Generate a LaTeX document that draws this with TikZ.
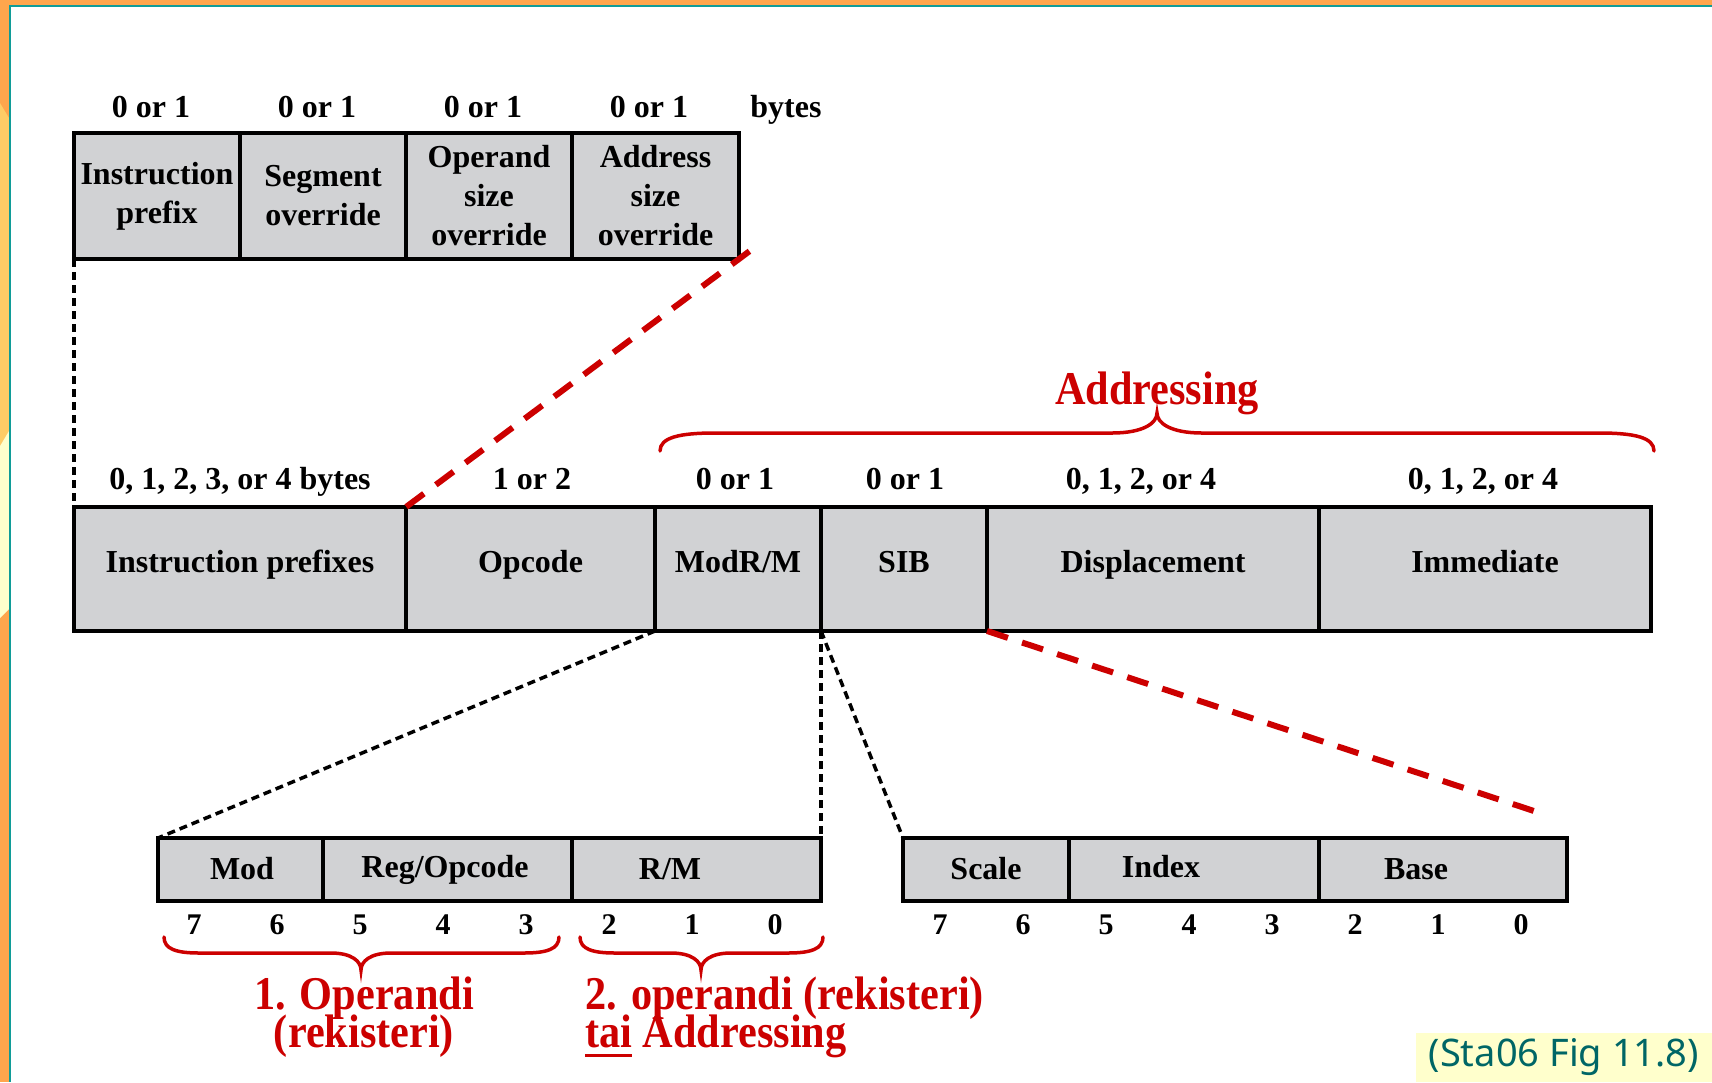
\documentclass[tikz,border=0pt]{standalone}
\usepackage{fontspec}
\setmainfont{Liberation Serif}
\newfontfamily\redfont{Liberation Serif}[FakeStretch=0.9]
\newfontfamily\notefont{Noto Sans}
\usetikzlibrary{calc}
\definecolor{boxgray}{RGB}{209,210,212}
\definecolor{myred}{RGB}{204,0,0}
\definecolor{frameorange}{RGB}{255,166,77}
\definecolor{frameteal}{RGB}{16,156,152}
\definecolor{lightorange}{RGB}{255,204,102}
\definecolor{paleyellow}{RGB}{255,255,204}
\definecolor{noteteal}{RGB}{0,102,102}
\newsavebox\ulbox
\newcommand{\ulred}[1]{\sbox\ulbox{#1}\rlap{\rule[-9pt]{\wd\ulbox}{3pt}}\usebox\ulbox}
\newcommand{\tightlines}{\lineskiplimit=-100pt\relax\lineskip=0pt\relax}
\newcommand{\redbraceshape}[8]{%
  \draw[redbrace] (#1,#4) .. controls (#1,{#5+0.25*(#4-#5)}) and ({#1+0.35*#7},#5) .. ({#1+#7},#5)
    -- ({#3-#8},#5) .. controls ({#3-0.3*#8},#5) and (#3,{#5+0.5*(#6-#5)}) .. (#3,#6)
    .. controls (#3,{#5+0.5*(#6-#5)}) and ({#3+0.3*#8},#5) .. ({#3+#8},#5)
    -- ({#2-#7},#5) .. controls ({#2-0.35*#7},#5) and (#2,{#5+0.25*(#4-#5)}) .. (#2,#4);}
\begin{document}
\begin{tikzpicture}[x=1pt,y=-1pt,
  field/.style={draw=black, fill=boxgray, line width=3.5pt, inner sep=0pt, outer sep=0pt,
    anchor=north west, align=center, font=\bfseries\fontsize{32}{39}\selectfont},
  mainfield/.style={field, minimum height=124pt, text height=22pt, text depth=16pt},
  lowfield/.style={field, minimum height=63pt},
  lbl/.style={anchor=base, inner sep=0pt, font=\bfseries\fontsize{32}{39}\selectfont},
  bitlbl/.style={anchor=base, inner sep=0pt, font=\bfseries\fontsize{30}{36}\selectfont},
  redlbl/.style={inner sep=0pt, text=myred,
    font=\redfont\bfseries\fontsize{47}{38}\selectfont\tightlines},
  blackdots/.style={draw=black, line width=3.5pt, dash pattern=on 8pt off 5pt},
  reddash/.style={draw=myred, line width=6pt, dash pattern=on 22pt off 14.9pt},
  redbrace/.style={draw=myred, line width=3.5pt, line cap=round}]
\useasboundingbox (0,0) rectangle (1712,1082);
% frame
\fill[white] (0,0) rectangle (1712,1082);
\fill[frameorange] (0,0) rectangle (1712,5);
\fill[frameorange] (0,0) rectangle (9,1082);
\fill[lightorange] (0,103) -- (9,118) -- (9,431) -- (0,446) -- cycle;
\fill[paleyellow] (0,446) -- (9,431) -- (9,609) -- (0,618) -- cycle;
\fill[frameteal] (9,5) rectangle (1712,7);
\fill[frameteal] (9,5) rectangle (11,1082);

% top row
\node[field, minimum width=166pt, minimum height=126pt] (ip) at (74,133) {Instruction\\prefix};
\node[field, minimum width=166pt, minimum height=126pt] (so) at (240,133) {Segment\\override};
\node[field, minimum width=166pt, minimum height=126pt] (osz) at (406,133) {Operand\\size\\override};
\node[field, minimum width=167pt, minimum height=126pt] (asz) at (572,133) {Address\\size\\override};
\node[lbl] (t1) at (151,117) {0 or 1};
\node[lbl] (t2) at (317,117) {0 or 1};
\node[lbl] (t3) at (483,117) {0 or 1};
\node[lbl] (t4) at (649,117) {0 or 1};
\node[lbl] (t5) at (786,117) {bytes};

% main row
\node[mainfield, minimum width=332pt] (mp1) at (74,507) {Instruction prefixes};
\node[mainfield, minimum width=249pt] (opc) at (406,507) {Opcode};
\node[mainfield, minimum width=166pt] (modrm) at (655,507) {ModR/M};
\node[mainfield, minimum width=166pt] (sib) at (821,507) {SIB};
\node[mainfield, minimum width=332pt] (disp) at (987,507) {Displacement};
\node[mainfield, minimum width=332pt] (imm) at (1319,507) {Immediate};
\node[lbl] (m1) at (240,489) {0, 1, 2, 3, or 4 bytes};
\node[lbl] (m2) at (532,489) {1 or 2};
\node[lbl] (m3) at (735,489) {0 or 1};
\node[lbl] (m4) at (905,489) {0 or 1};
\node[lbl] (m5) at (1141,489) {0, 1, 2, or 4};
\node[lbl] (m6) at (1483,489) {0, 1, 2, or 4};

% lower rows
\node[lowfield, minimum width=165pt] (nmod) at (158,838) {};
\node[lowfield, minimum width=249pt] (nreg) at (323,838) {};
\node[lowfield, minimum width=249pt] (nrm) at (572,838) {};
\node[lowfield, minimum width=166pt] (nscale) at (903,838) {};
\node[lowfield, minimum width=250pt] (nindex) at (1069,838) {};
\node[lowfield, minimum width=248pt] (nbase) at (1319,838) {};
\node[lbl] (lmod) at (242,879) {Mod};
\node[lbl] (lreg) at (445,877) {Reg/Opcode};
\node[lbl] (lrm) at (670,879) {R/M};
\node[lbl] (lscale) at (986,879) {Scale};
\node[lbl] (lindex) at (1161,877) {Index};
\node[lbl] (lbase) at (1416,879) {Base};
\foreach \x/\b [count=\i] in {194/7,277/6,360/5,443/4,526/3,609/2,692/1,775/0}
  \node[bitlbl] (ba\i) at (\x,934) {\b};
\foreach \x/\b [count=\i] in {940/7,1023/6,1106/5,1189/4,1272/3,1355/2,1438/1,1521/0}
  \node[bitlbl] (bb\i) at (\x,934) {\b};

% connectors
\draw[blackdots] (ip.south west) -- (mp1.north west);
\coordinate (redtop) at ($(asz.south east)!-13pt!(mp1.north east)$);
\draw[reddash] (redtop) -- (mp1.north east);
\draw[blackdots] (modrm.south west) -- (nmod.north west);
\draw[blackdots] (modrm.south east) -- (nrm.north east);
\draw[blackdots] (modrm.south east) -- (nscale.north west);
\coordinate (redend) at (1534,811);
\draw[reddash] (sib.south east) -- (redend);

% braces and red labels
\redbraceshape{660}{1654}{1157}{451}{433}{413}{55}{45}
\redbraceshape{164}{559}{361}{937}{953}{970}{35}{30}
\redbraceshape{580}{823}{701}{937}{953}{970}{35}{30}
\node[redlbl, anchor=base] (addr) at (1157,404) {Addressing};
\node[redlbl, anchor=north, align=center] (op1) at (364,977) {1. Operandi\\(rekisteri)};
\node[redlbl, anchor=north west, align=left] (op2) at (585,977) {2. operandi (rekisteri)\\\ulred{tai} Addressing};

% source note
\node[fill=paleyellow, anchor=south east, inner sep=0pt, minimum width=296pt, minimum height=49pt,
  text=noteteal, font=\notefont\fontsize{38}{44}\selectfont] (note) at (1712,1082) {(Sta06 Fig 11.8)};
\end{tikzpicture}
\end{document}
